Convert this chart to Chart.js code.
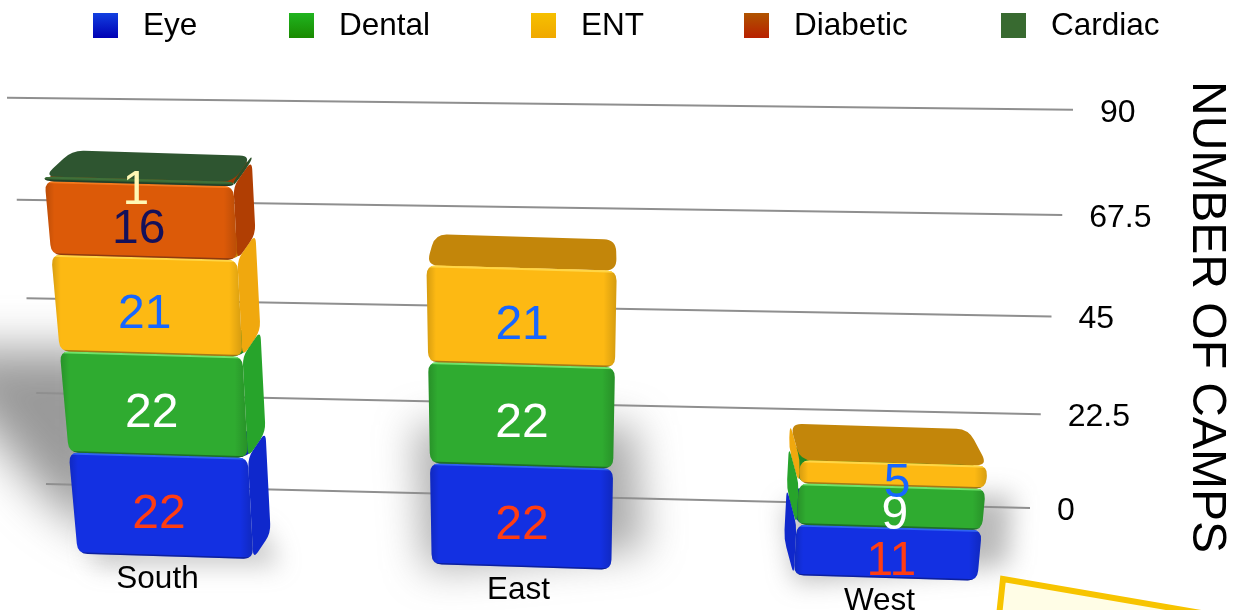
<!DOCTYPE html>
<html>
<head>
<meta charset="utf-8">
<title>Number of camps</title>
<script src="https://cdn.jsdelivr.net/npm/chart.js@4/dist/chart.umd.min.js"></script>
<style>
    html, body { margin: 0; padding: 0; background: #fff; overflow: hidden; }
    canvas { display: block; }
</style>
</head>
<body>
<canvas id="camps" width="1235" height="610"></canvas>
<script>
var regions = ['South', 'East', 'West'];
var eye = [22, 22, 11];
var dental = [22, 22, 9];
var ent = [21, 21, 5];
var diabetic = [16, 0, 0];
var cardiac = [1, 0, 0];
var yTicks = [0, 22.5, 45, 67.5, 90];
var yTickLabels = ['0', '22.5', '45', '67.5', '90'];

var FONT = '"Liberation Sans", Arial, sans-serif';

// front, side, lid, highlight, text colour, legend swatch top and bottom
var looks = {
    Eye: { front: '#1330e2', side: '#0f28cc', lid: '#0f26b0', edge: '#2f63f2', text: '#ff3d12', key: ['#1240e0', '#0000b4'] },
    Dental: { front: '#2fab30', side: '#27a42b', lid: '#1f8a24', edge: '#6fe36a', text: '#ffffff', key: ['#20b420', '#1a8a00'] },
    ENT: { front: '#fdb913', side: '#f0a80e', lid: '#c3860a', edge: '#ffd646', text: '#1766ff', key: ['#f6c000', '#f0a800'] },
    Diabetic: { front: '#dc5a08', side: '#b03e03', lid: '#a03a04', edge: '#f57a1e', text: '#14105a', key: ['#b05400', '#b82000'] },
    Cardiac: { front: '#33602f', side: '#2b5029', lid: '#2e5530', edge: '#3f7039', text: '#fff8b4', key: ['#386a30', '#386a30'] }
};

// swatch left edge of each legend entry
var legendX = [93, 289, 531, 744, 1001];

// camera: stacks lean away from the middle, tops recede towards VP_X
var LEAN_X = 520, LEAN = 0.0002;
var VP_X = 600, RECEDE = 0.05;
var TILT = 0.03, FRONT_DROP = 43, SHIFT_X = -19;
var NUDGE_X = [4, -1, 2];

function frontPoint(scale, x, d) {
    return {
        x: LEAN_X + (x - LEAN_X) * (1 + LEAN * d),
        y: scale.bottom + FRONT_DROP + TILT * (x - 521) - d
    };
}

function backPoint(p, x0) {
    return { x: p.x + (VP_X - p.x) * RECEDE, y: p.y - (26 + (x0 - 164) * 0.0145) };
}

// polygon with its corners cut by curves, never more than half an edge
function roundPoly(ctx, pts, r) {
    var n = pts.length;
    ctx.beginPath();
    for (var i = 0; i < n; i++) {
        var p = pts[i], a = pts[(i + n - 1) % n], b = pts[(i + 1) % n];
        var la = Math.hypot(a.x - p.x, a.y - p.y), lb = Math.hypot(b.x - p.x, b.y - p.y);
        var ta = Math.min(r, la / 2) / la, tb = Math.min(r, lb / 2) / lb;
        var sx = p.x + (a.x - p.x) * ta, sy = p.y + (a.y - p.y) * ta;
        if (i) ctx.lineTo(sx, sy);
        else ctx.moveTo(sx, sy);
        ctx.quadraticCurveTo(p.x, p.y, p.x + (b.x - p.x) * tb, p.y + (b.y - p.y) * tb);
    }
    ctx.closePath();
}

function drawBlock(ctx, scale, x0, w, dBase, dTop, look) {
    var bl = frontPoint(scale, x0 - w / 2, dBase), br = frontPoint(scale, x0 + w / 2, dBase);
    var tl = frontPoint(scale, x0 - w / 2, dTop), tr = frontPoint(scale, x0 + w / 2, dTop);
    var btl = backPoint(tl, x0), btr = backPoint(tr, x0);
    var bbl = backPoint(bl, x0), bbr = backPoint(br, x0);

    ctx.fillStyle = look.side;
    if (btr.x > tr.x) {
        roundPoly(ctx, [tr, btr, bbr, br], 9);
        ctx.fill();
    }
    if (btl.x < tl.x) {
        roundPoly(ctx, [tl, btl, bbl, bl], 9);
        ctx.fill();
    }

    ctx.fillStyle = look.lid;
    roundPoly(ctx, [tl, btl, btr, tr], 12);
    ctx.fill();

    ctx.save();
    roundPoly(ctx, [tl, tr, br, bl], 10);
    ctx.fillStyle = look.front;
    ctx.fill();
    ctx.clip();
    // darker rim at the sides and the bottom
    var g = ctx.createLinearGradient(Math.min(tl.x, bl.x), 0, Math.max(tr.x, br.x), 0);
    g.addColorStop(0, 'rgba(0,0,0,0.16)');
    g.addColorStop(0.05, 'rgba(0,0,0,0)');
    g.addColorStop(0.93, 'rgba(0,0,0,0)');
    g.addColorStop(1, 'rgba(0,0,0,0.16)');
    ctx.fillStyle = g;
    ctx.fillRect(0, 0, 1235, 610);
    ctx.strokeStyle = 'rgba(0,0,30,0.35)';
    ctx.lineWidth = 3;
    ctx.beginPath();
    ctx.moveTo(bl.x, bl.y);
    ctx.lineTo(br.x, br.y);
    ctx.stroke();
    ctx.strokeStyle = look.edge;
    ctx.lineWidth = 4;
    ctx.beginPath();
    ctx.moveTo(tl.x, tl.y);
    ctx.lineTo(tr.x, tr.y);
    ctx.stroke();
    ctx.restore();

    return { x: (tl.x + tr.x + bl.x + br.x) / 4, y: (tl.y + tr.y + bl.y + br.y) / 4 };
}

function softShadow(ctx, pts, blur, colour) {
    ctx.save();
    ctx.filter = 'blur(' + blur + 'px)';
    ctx.fillStyle = colour;
    ctx.beginPath();
    pts.forEach(function (p, i) {
        if (i) ctx.lineTo(p[0], p[1]);
        else ctx.moveTo(p[0], p[1]);
    });
    ctx.closePath();
    ctx.fill();
    ctx.restore();
}

var camps3d = {
    id: 'camps3d',
    beforeDatasetsDraw: function (chart) {
        var ctx = chart.ctx;
        var y = chart.scales.y;
        var span = y.bottom - y.top;

        softShadow(ctx, [[-80, 350], [110, 350], [110, 540], [50, 500]], 24, 'rgba(90,90,90,0.62)');
        softShadow(ctx, [[90, 530], [265, 530], [280, 566], [95, 566]], 12, 'rgba(110,110,110,0.35)');
        softShadow(ctx, [[415, 425], [635, 425], [645, 550], [425, 570]], 20, 'rgba(90,90,90,0.5)');
        softShadow(ctx, [[785, 505], [1012, 495], [1008, 565], [795, 582]], 13, 'rgba(90,90,90,0.42)');

        // grid lines tilt and spread with height
        y.ticks.forEach(function (tick, i) {
            var d = y.bottom - y.getPixelForTick(i);
            var c = 0.875 * d + 0.000175 * d * d;
            var xL = 46 - 39 * d / span, xR = 1030 + 43 * d / span;
            var yL = 484 - 0.985 * c, yR = 508 - 1.015 * c;
            ctx.strokeStyle = '#8f8f8f';
            ctx.lineWidth = 2;
            ctx.beginPath();
            ctx.moveTo(xL, yL);
            ctx.lineTo(xR, yR);
            ctx.stroke();
            ctx.fillStyle = '#000';
            ctx.font = '32px ' + FONT;
            ctx.textAlign = 'left';
            ctx.textBaseline = 'middle';
            ctx.fillText(tick.label, xR + 27, yR + 3);
        });

        var values = [];
        regions.forEach(function (name, j) {
            var x0 = 0;
            chart.data.datasets.forEach(function (ds, i) {
                var el = chart.getDatasetMeta(i).data[j];
                x0 = el.x + SHIFT_X + NUDGE_X[j];
                if (!ds.data[j]) return;
                // the near stack looks a little narrower
                var w = el.width * (0.955 + 0.00006 * x0);
                var mid = drawBlock(ctx, y, x0, w, y.bottom - el.base, y.bottom - el.y, looks[ds.label]);
                values.push({ text: String(ds.data[j]), x: mid.x - 3 + (x0 - 161) * 0.0097, y: mid.y, colour: looks[ds.label].text });
            });
            var foot = frontPoint(y, x0, 0);
            ctx.fillStyle = '#000';
            ctx.font = '31.5px ' + FONT;
            ctx.textAlign = 'center';
            ctx.textBaseline = 'middle';
            ctx.fillText(name, foot.x - 4 - NUDGE_X[j], foot.y + 23);
        });

        ctx.font = '48px ' + FONT;
        ctx.textAlign = 'center';
        ctx.textBaseline = 'middle';
        values.forEach(function (v) {
            ctx.fillStyle = v.colour;
            ctx.fillText(v.text, v.x, v.y + 9);
        });
        return false;
    },
    afterDraw: function (chart) {
        var ctx = chart.ctx;

        // note card cut off by the corner of the page
        ctx.fillStyle = '#fffde6';
        ctx.strokeStyle = '#f7c400';
        ctx.lineWidth = 6;
        ctx.beginPath();
        ctx.moveTo(1003, 579);
        ctx.lineTo(1300, 630);
        ctx.lineTo(1300, 700);
        ctx.lineTo(990, 700);
        ctx.closePath();
        ctx.fill();
        ctx.stroke();

        ctx.font = '31.5px ' + FONT;
        ctx.textAlign = 'left';
        ctx.textBaseline = 'middle';
        chart.data.datasets.forEach(function (ds, i) {
            var x = legendX[i];
            var g = ctx.createLinearGradient(0, 13, 0, 38);
            g.addColorStop(0, looks[ds.label].key[0]);
            g.addColorStop(1, looks[ds.label].key[1]);
            ctx.fillStyle = g;
            ctx.fillRect(x, 13, 25, 25);
            ctx.fillStyle = '#000';
            ctx.fillText(ds.label, x + 50, 26);
        });
    }
};

new Chart(document.getElementById('camps'), {
    type: 'bar',
    data: {
        labels: regions,
        datasets: [
            { label: 'Eye', data: eye, backgroundColor: looks.Eye.front },
            { label: 'Dental', data: dental, backgroundColor: looks.Dental.front },
            { label: 'ENT', data: ent, backgroundColor: looks.ENT.front },
            { label: 'Diabetic', data: diabetic, backgroundColor: looks.Diabetic.front },
            { label: 'Cardiac', data: cardiac, backgroundColor: looks.Cardiac.front }
        ]
    },
    options: {
        responsive: false,
        animation: false,
        layout: { padding: { top: 110, bottom: 86 } },
        datasets: { bar: { barThickness: 182 } },
        plugins: { legend: { display: false }, tooltip: { enabled: false } },
        scales: {
            x: { stacked: true, display: false },
            y: {
                stacked: true,
                position: 'right',
                min: 0,
                max: 90,
                afterBuildTicks: function (axis) {
                    axis.ticks = yTicks.map(function (v) { return { value: v }; });
                },
                afterFit: function (axis) { axis.width = 152; },
                grid: { display: false },
                border: { display: false },
                ticks: {
                    display: false,
                    callback: function (v) { return yTickLabels[yTicks.indexOf(v)]; }
                },
                title: {
                    display: true,
                    text: 'NUMBER OF CAMPS',
                    color: '#000',
                    padding: 0,
                    font: { family: FONT, size: 48 }
                }
            }
        }
    },
    plugins: [camps3d]
});
</script>
</body>
</html>
